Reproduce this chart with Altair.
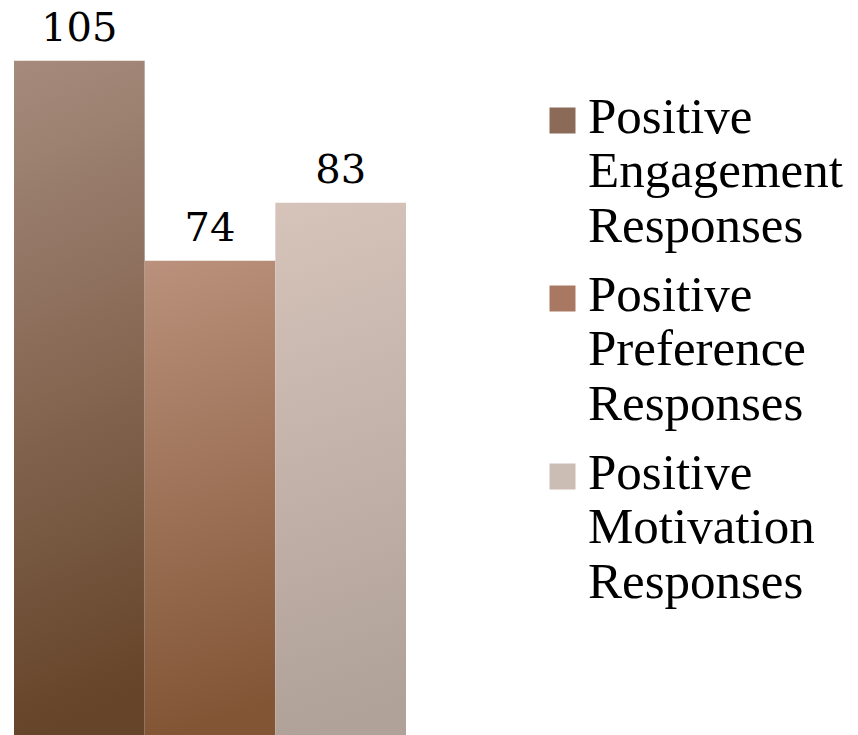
import altair as alt
import pandas as pd

# Survey totals per response category
categories = [
    "Positive Engagement Responses",
    "Positive Preference Responses",
    "Positive Motivation Responses",
]
values = [105, 74, 83]

# Gradient end colours per bar (top -> bottom) and flat legend swatches
top_colors = ["#a68b7d", "#ba917c", "#d6c4ba"]
bottom_colors = ["#654429", "#825535", "#b0a199"]
swatch_colors = ["#8c6a58", "#a97862", "#cbbcb4"]

df = pd.DataFrame({"series": categories, "value": values})


def gradient(top, bottom):
    return {
        "gradient": "linear",
        "x1": 0, "y1": 0, "x2": 0.08, "y2": 1,
        "stops": [
            {"offset": 0, "color": top},
            {"offset": 1, "color": bottom},
        ],
    }


fills = [gradient(t, b) for t, b in zip(top_colors, bottom_colors)]
fill_def = {
    "condition": [
        {"test": f"datum.series === '{c}'", "value": g}
        for c, g in zip(categories[:-1], fills[:-1])
    ],
    "value": fills[-1],
}

x_enc = alt.X(
    "series:N",
    sort=categories,
    scale=alt.Scale(range=[14, 406], paddingInner=0, paddingOuter=0),
    axis=None,
)
y_enc = alt.Y(
    "value:Q",
    scale=alt.Scale(domain=[0.5, 114.4], nice=False, zero=False),
    axis=None,
)

bars = alt.Chart(df).mark_bar(clip=True).encode(
    x=x_enc, y=y_enc, y2=alt.datum(0), fill=fill_def
)

labels = alt.Chart(df).mark_text(
    baseline="alphabetic", dy=-20, font="DejaVu Serif", fontSize=40, color="#000000"
).encode(x=x_enc, y=y_enc, text="value:Q")

# Transparent carrier that produces the colour legend
legend_carrier = alt.Chart(df).mark_square(opacity=0).encode(
    x=x_enc,
    y=y_enc,
    color=alt.Color(
        "series:N",
        sort=categories,
        scale=alt.Scale(domain=categories, range=swatch_colors),
        legend=alt.Legend(
            title=None,
            orient="none",
            legendX=537,
            legendY=95,
            symbolType="square",
            symbolSize=676,
            symbolOpacity=1,
            symbolStrokeWidth=0,
            labelFont="Liberation Serif",
            labelFontSize=51,
            labelColor="#000000",
            labelLimit=0,
            labelOffset=0,
            labelBaseline="top",
            labelExpr="split(datum.label, ' ')",
            rowPadding=17,
        ),
    ),
)

chart = (
    alt.layer(bars, labels, legend_carrier)
    .properties(
        width=858,
        height=735,
        padding=0,
        autosize=alt.AutoSizeParams(type="none"),
        background="#ffffff",
    )
    .configure(style={"guide-label": {"lineHeight": 54.5, "dy": -28}})
    .configure_view(stroke=None)
)

chart.save("out.html", embed_options={"renderer": "svg", "actions": False})
